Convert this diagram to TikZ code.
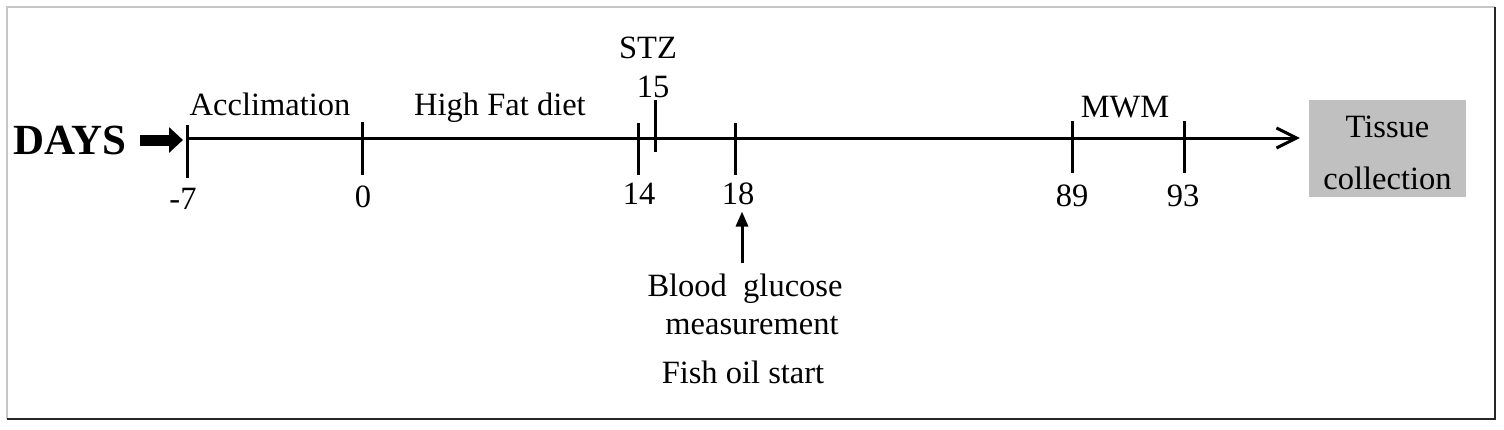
\documentclass[tikz,border=0pt]{standalone}
\usepackage{fontspec}
\setmainfont{Liberation Serif}
\usetikzlibrary{arrows.meta}
\tikzset{
  lbl/.style={font=\fontsize{32.5}{38}\selectfont, inner sep=0pt, anchor=base},
  tickline/.style={line width=3pt},
  mainline/.style={line width=3pt},
}
\begin{document}
\begin{tikzpicture}[x=1pt,y=-1pt]
\useasboundingbox (0,0) rectangle (1504,429);
% frame
\draw[line width=1.5pt, gray!45] (7,419) -- (7,7) -- (1495,7);
\draw[line width=1.5pt, black!85] (1495,7) -- (1495,419) -- (7,419);

% tick positions on the line
\coordinate (m7) at (187,138);
\coordinate (d0) at (362,138);
\coordinate (d14) at (638,138);
\coordinate (d15) at (655,138);
\coordinate (d18) at (735,138);
\coordinate (d89) at (1072,138);
\coordinate (d93) at (1184,138);

% Tissue box
\node[fill={rgb,255:red,192;green,192;blue,192}, minimum width=157pt, minimum height=97pt,
      inner sep=0pt, align=center, font=\fontsize{32.5}{52}\selectfont]
      (tissue) at (1387.5,148.5) {\rule{0pt}{31pt}Tissue\\collection};

% main line
\draw[mainline, -{Straight Barb[length=20pt,width=20pt,line width=3pt]}, shorten >=9pt] (m7) -- (tissue.west |- m7);

% ticks
\draw[tickline] ([yshift=13pt]m7) -- ([yshift=-40pt]m7);
\draw[tickline] ([yshift=16pt]d0) -- ([yshift=-37pt]d0);
\draw[tickline] ([yshift=15pt]d14) -- ([yshift=-37pt]d14);
\draw[tickline] ([yshift=38pt]d15) -- ([yshift=-14pt]d15);
\draw[tickline] ([yshift=15pt]d18) -- ([yshift=-37pt]d18);
\draw[tickline] ([yshift=17pt]d89) -- ([yshift=-35pt]d89);
\draw[tickline] ([yshift=17pt]d93) -- ([yshift=-35pt]d93);

% labels
\node[lbl] (lm7) at (183,209) {-7};
\node[lbl] (l0) at (363,207) {0};
\node[lbl] (l14) at (639,204) {14};
\node[lbl] (l18) at (738,204) {18};
\node[lbl] (l89) at (1072,206) {89};
\node[lbl] (l93) at (1183,206) {93};
\node[lbl] (l15) at (653,97) {15};
\node[lbl] (stz) at (648,58) {STZ};
\node[lbl] (mwm) at (1125,117) {MWM};
\node[lbl] (accl) at (270,115) {Acclimation};
\node[lbl] (hfd) at (500,115) {High Fat diet};
\node[lbl, font=\fontsize{43}{48}\selectfont\bfseries] (days) at (70,154) {DAYS};
\node[lbl] (blood) at (745,296) {Blood\hspace{0.5em}glucose};
\node[lbl] (meas) at (752,334) {measurement};
\node[lbl] (fish) at (743,383) {Fish oil start};

% DAYS arrow
\draw[line width=11pt, -{Triangle[length=14pt,width=25pt]}, shorten <=13pt, shorten >=4pt]
  ([yshift=-2pt]days.east |- m7) -- ([yshift=-2pt]m7);

% up arrow to day 18
\draw[line width=3pt, -{Triangle[length=15pt,width=12pt]}, shorten <=10pt, shorten >=7pt]
  ([xshift=-3pt]blood.north) -- ([xshift=4pt]l18.south);
\end{tikzpicture}
\end{document}
